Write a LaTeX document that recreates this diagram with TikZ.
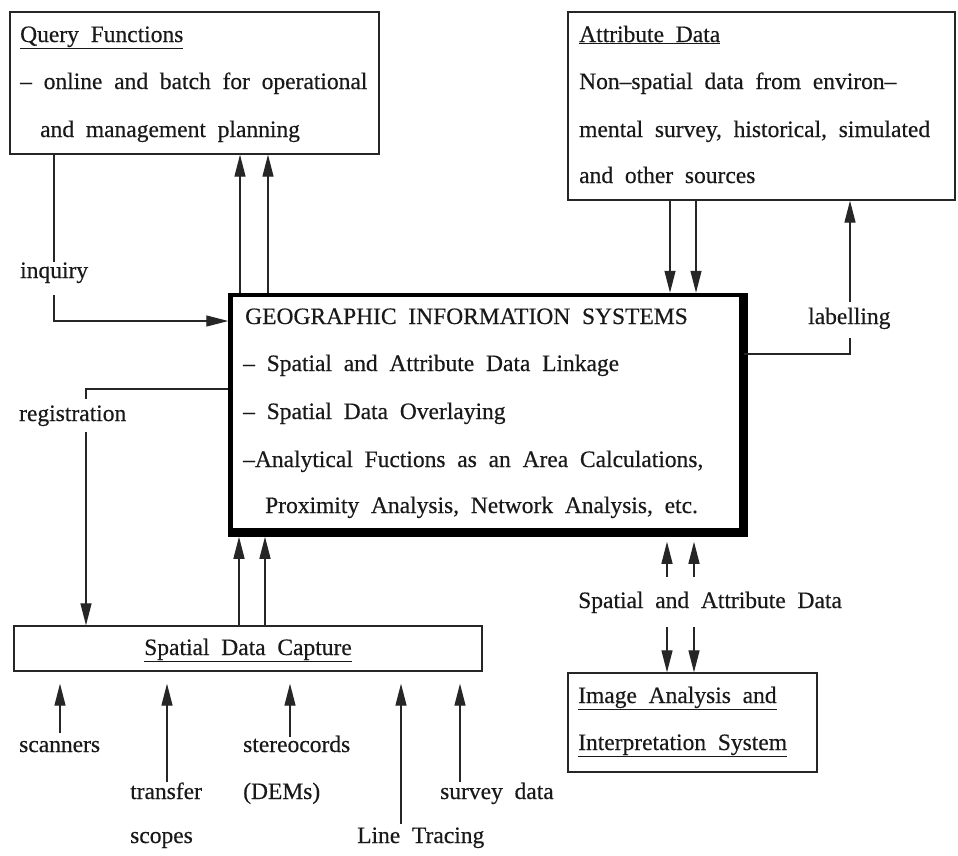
\documentclass[tikz,border=0pt]{standalone}
\usepackage{fontspec}
\setmainfont{Liberation Serif}[WordSpace=2,FakeBold=0.4]
\usetikzlibrary{arrows.meta,calc}
\begin{document}
\begin{tikzpicture}[x=1pt,y=-1pt,
  conn/.style={line width=1.3pt,draw=black!85},
  arr/.style={conn,-{Triangle[length=22pt,width=11pt]}},
  plainbox/.style={draw=black!85,line width=1.4pt,inner sep=0pt},
  txt/.style={inner sep=0pt,anchor=base west,text=black!90,font=\fontsize{23.5}{28}\selectfont}]
\fill[white] (0,0) rectangle (958,855);
\useasboundingbox (0,0) rectangle (958,855);
% boxes
\node[plainbox,minimum width=369pt,minimum height=142pt] (Q) at (194.5,83) {};
\node[plainbox,minimum width=387pt,minimum height=188pt] (A) at (761.5,106) {};
\node[draw=black,line width=4.5pt,inner sep=0pt,minimum width=511pt,minimum height=235.5pt] (GIS) at (486,412.75) {};
\fill[black] ($(GIS.north east)+(-3,0)$) rectangle ($(GIS.south east)+(4,4)$);
\fill[black] ($(GIS.south west)+(0,-3)$) rectangle ($(GIS.south east)+(4,4)$);
\node[plainbox,minimum width=468pt,minimum height=45pt] (SDC) at (248,648.5) {};
\node[plainbox,minimum width=249pt,minimum height=99pt] (IA) at (692.5,722.5) {};
% texts
\node[txt] (q1) at (20,42) {\underline{Query Functions}};
\node[txt] (q2) at (20,89) {-- online and batch for operational};
\node[txt] (q3) at (40,137) {and management planning};
\node[txt] (a1) at (579,42) {\underline{Attribute Data}};
\node[txt] (a2) at (579,89) {Non--spatial data from environ--};
\node[txt] (a3) at (579,137) {mental survey, historical, simulated};
\node[txt] (a4) at (579,183) {and other sources};
\node[txt] (g1) at (245,324) {GEOGRAPHIC INFORMATION SYSTEMS};
\node[txt] (g2) at (243,371) {-- Spatial and Attribute Data Linkage};
\node[txt] (g3) at (243,419) {-- Spatial Data Overlaying};
\node[txt] (g4) at (243,467) {--Analytical Fuctions as an Area Calculations,};
\node[txt] (g5) at (265,513) {Proximity Analysis, Network Analysis, etc.};
\node[txt,anchor=base] (sdct) at (SDC.center |- 0,655) {\underline{Spatial Data Capture}};
\node[txt] (i1) at (578,703) {\underline{Image Analysis and}};
\node[txt] (i2) at (578,750) {\underline{Interpretation System}};
\node[txt] (linq) at (20,278) {inquiry};
\node[txt] (lreg) at (19,421) {registration};
\node[txt] (llab) at (808,324) {labelling};
\node[txt] (lsad) at (578,608) {Spatial and Attribute Data};
\node[txt] (lsc) at (19,752) {scanners};
\node[txt] (ltr) at (130,799) {transfer};
\node[txt] (lsco) at (130,843) {scopes};
\node[txt] (lst) at (243,752) {stereocords};
\node[txt] (ldem) at (243,799) {(DEMs)};
\node[txt] (llt) at (357,843) {Line Tracing};
\node[txt] (lsv) at (440,799) {survey data};
% coordinates
\coordinate (inqA) at (54,262);
\coordinate (inqB) at (54,295);
\coordinate (inqC) at (54,321);
\coordinate (u1) at (240,0);
\coordinate (u2) at (268,0);
\coordinate (d1) at (670,0);
\coordinate (d2) at (696,0);
\coordinate (labA) at (850,354);
\coordinate (labB) at (850,338);
\coordinate (labC) at (850,302);
\coordinate (regA) at (86,389);
\coordinate (regB) at (86,399);
\coordinate (regC) at (86,432);
\coordinate (s1) at (239,0);
\coordinate (s2) at (265,0);
\coordinate (m1) at (667,577);
\coordinate (m2) at (694,577);
\coordinate (m3) at (667,627);
\coordinate (m4) at (694,627);
\coordinate (b1) at (60,733);
\coordinate (b2) at (167,782);
\coordinate (b3) at (290,737);
\coordinate (b4) at (401,824);
\coordinate (b5) at (460,782);
% connectors
\draw[conn] (Q.south -| inqA) -- (inqA);
\draw[arr] (inqB) -- (inqC) -- (GIS.west |- inqC);
\draw[arr] (u1 |- GIS.north) -- (u1 |- Q.south);
\draw[arr] (u2 |- GIS.north) -- (u2 |- Q.south);
\draw[arr] (d1 |- A.south) -- (d1 |- GIS.north);
\draw[arr] (d2 |- A.south) -- (d2 |- GIS.north);
\draw[conn] (GIS.east |- labA) -- (labA) -- (labB);
\draw[arr] (labC) -- (labC |- A.south);
\draw[conn] (GIS.west |- regA) -- (regA) -- (regB);
\draw[arr] (regC) -- (regC |- SDC.north);
\draw[arr] (s1 |- SDC.north) -- ($(s1 |- GIS.south)+(0,4)$);
\draw[arr] (s2 |- SDC.north) -- ($(s2 |- GIS.south)+(0,4)$);
\draw[arr] (m1) -- ($(m1 |- GIS.south)+(0,9)$);
\draw[arr] (m2) -- ($(m2 |- GIS.south)+(0,9)$);
\draw[arr] (m3) -- (m3 |- IA.north);
\draw[arr] (m4) -- (m4 |- IA.north);
\foreach \b in {b1,b2,b3,b4,b5}
  \draw[arr] (\b) -- ($(\b |- SDC.south)+(0,12)$);
\end{tikzpicture}
\end{document}
